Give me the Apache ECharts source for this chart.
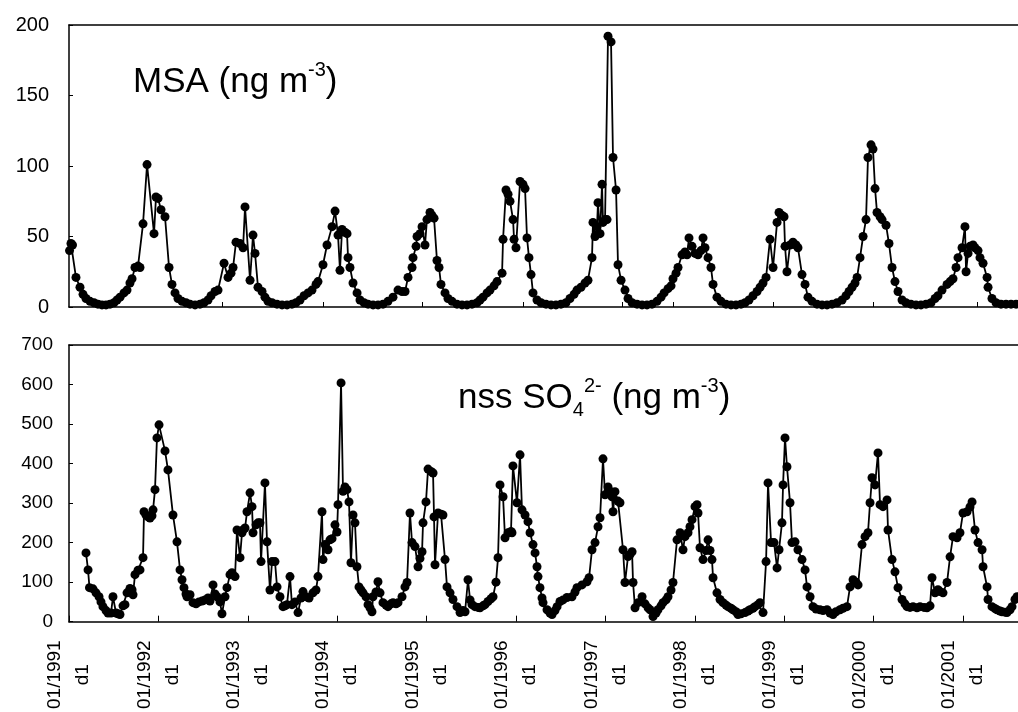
<!DOCTYPE html>
<html><head><meta charset="utf-8">
<script src="https://cdn.jsdelivr.net/npm/echarts@6/dist/echarts.min.js"></script>
<style>html,body{margin:0;padding:0;background:#fff}#c{width:1018px;height:712px}</style>
</head><body><div id="c"></div>
<script>
// ---- x-axis ticks / labels ----
const tickYears = [1991,1992,1993,1994,1995,1996,1997,1998,1999,2000,2001];
const tickLabels = ['01/1991\nd1','01/1992\nd1','01/1993\nd1','01/1994\nd1','01/1995\nd1','01/1996\nd1','01/1997\nd1','01/1998\nd1','01/1999\nd1','01/2000\nd1','01/2001\nd1'];
const msaPanelTicks = [1992.711,1993.841,1994.949,1996.078,1997.186,1997.756,1998.875,1999.993,2001.157];
const msaTicksY = [0,50,100,150,200];
const so4TicksY = [0,100,200,300,400,500,600,700];

// ---- MSA (ng m-3) : sample time (decimal year) and value ----
const msaX = [
1991.006,1991.022,1991.039,1991.078,1991.123,1991.157,1991.190,1991.235,1991.280,1991.324,1991.369,1991.414,1991.459,1991.503,1991.537,1991.571,1991.615,1991.649,1991.682,1991.705,1991.738,1991.772,1991.794,1991.828,1991.873,1991.951,1991.973,1991.996,
1992.029,1992.074,1992.119,1992.152,1992.186,1992.219,1992.264,1992.309,1992.354,1992.410,1992.465,1992.510,1992.555,1992.589,1992.633,1992.667,1992.734,1992.779,1992.812,1992.835,1992.868,1992.913,1992.947,1992.969,
1993.025,1993.058,1993.081,1993.114,1993.159,1993.192,1993.226,1993.271,1993.327,1993.383,1993.439,1993.494,1993.539,1993.584,1993.629,1993.674,1993.718,1993.763,1993.785,1993.841,1993.886,1993.942,1993.976,
1994.009,1994.031,1994.054,1994.087,1994.110,1994.121,1994.143,1994.177,1994.222,1994.255,1994.300,1994.345,1994.401,1994.457,1994.512,1994.568,1994.624,1994.680,1994.725,1994.759,1994.792,1994.837,1994.848,1994.882,1994.893,1994.926,1994.949,1994.982,
1995.004,1995.038,1995.060,1995.083,1995.116,1995.139,1995.161,1995.206,1995.239,1995.284,1995.340,1995.396,1995.452,1995.508,1995.564,1995.598,1995.631,1995.676,1995.709,1995.754,1995.788,1995.844,1995.855,1995.888,1995.911,1995.933,1995.967,1995.978,
1996.000,1996.045,1996.078,1996.101,1996.123,1996.145,1996.168,1996.190,1996.235,1996.280,1996.336,1996.392,1996.447,1996.503,1996.559,1996.604,1996.649,1996.682,1996.727,1996.772,1996.805,1996.850,1996.861,1996.884,1996.906,1996.917,1996.940,1996.962,1996.973,1996.996,
1997.018,1997.029,1997.063,1997.085,1997.119,1997.141,1997.175,1997.219,1997.253,1997.298,1997.354,1997.410,1997.465,1997.521,1997.577,1997.622,1997.656,1997.700,1997.734,1997.756,1997.790,1997.812,1997.857,1997.890,1997.913,1997.935,1997.969,
1998.002,1998.036,1998.069,1998.092,1998.114,1998.148,1998.181,1998.204,1998.248,1998.293,1998.349,1998.405,1998.461,1998.517,1998.562,1998.606,1998.651,1998.696,1998.730,1998.763,1998.797,1998.841,1998.875,1998.920,1998.942,1998.975,1998.998,
1999.009,1999.031,1999.065,1999.098,1999.132,1999.154,1999.199,1999.233,1999.266,1999.311,1999.367,1999.423,1999.479,1999.535,1999.591,1999.647,1999.691,1999.725,1999.759,1999.792,1999.815,1999.848,1999.882,1999.915,1999.937,1999.971,1999.993,
2000.016,2000.038,2000.072,2000.094,2000.139,2000.172,2000.206,2000.239,2000.273,2000.318,2000.362,2000.418,2000.474,2000.530,2000.586,2000.642,2000.687,2000.720,2000.765,2000.821,2000.855,2000.888,2000.922,2000.944,2000.989,
2001.022,2001.034,2001.056,2001.078,2001.112,2001.134,2001.168,2001.190,2001.224,2001.269,2001.280,2001.324,2001.369,2001.425,2001.481,2001.537,2001.593,2001.638
];
const msaY = [
40,45,44,21,14,9,6,4,3,2,1.5,1.5,2,3,5,7,10,12,17,20,28,29,28,59,101,52,78,77,
69,64,28,16,10,6,4,3,2,1.5,2,3,5,8,11,12,31,21,24,28,46,45,42,71,
19,51,38,14,11,7,4,3,2,1.5,1.5,2,3,5,8,10,12,16,18,30,44,57,68,
51,26,55,53,52,35,28,17,10,5,3,2,1.5,1.5,2,4,7,12,11,11,21,28,35,43,50,52,57,44,
62,67,65,63,33,28,16,10,6,4,2,1.5,1.5,2,3,5,7,10,12,15,18,24,48,83,80,75,62,48,
42,89,87,84,49,35,23,10,5,3,2,1.5,1.5,2,3,6,9,12,14,17,19,35,60,50,57,74,52,87,60,62,
62,192,188,106,83,30,19,12,6,3,2,1.5,1.5,2,4,7,10,13,15,20,24,28,37,39,37,49,43,
38,37,40,49,42,35,28,16,7,4,2,1.5,1.5,2,3,5,8,11,14,17,21,48,28,60,67,65,64,
43,25,44,46,44,42,23,16,7,4,2,1.5,1.5,2,3,5,8,11,14,17,21,35,50,62,106,115,112,
84,67,64,62,58,45,28,18,11,5,3,2,1.5,1.5,2,3,6,8,12,16,18,20,28,35,42,
57,25,38,43,44,42,40,35,31,21,14,6,3,2,2,2,2,2
];

// ---- nss SO4 2- (ng m-3) ----
const so4X = [
1991.190,1991.213,1991.229,1991.268,1991.302,1991.336,1991.358,1991.380,1991.414,1991.436,1991.470,1991.492,1991.526,1991.548,1991.570,1991.604,1991.626,1991.649,1991.682,1991.705,1991.716,1991.738,1991.772,1991.794,1991.828,1991.839,1991.861,1991.884,1991.906,1991.928,1991.940,1991.962,1991.984,
1992.007,1992.074,1992.107,1992.163,1992.208,1992.242,1992.264,1992.286,1992.309,1992.320,1992.354,1992.387,1992.421,1992.454,1992.488,1992.521,1992.555,1992.577,1992.611,1992.633,1992.656,1992.689,1992.711,1992.745,1992.767,1992.801,1992.823,1992.857,1992.879,1992.913,1992.935,1992.946,1992.969,1992.991,
1993.025,1993.047,1993.058,1993.092,1993.114,1993.136,1993.148,1993.192,1993.215,1993.248,1993.271,1993.304,1993.327,1993.360,1993.394,1993.416,1993.438,1993.472,1993.494,1993.528,1993.562,1993.595,1993.617,1993.651,1993.685,1993.729,1993.763,1993.785,1993.830,1993.841,1993.864,1993.897,1993.919,1993.942,1993.975,
1993.998,1994.009,1994.043,1994.065,1994.087,1994.110,1994.132,1994.154,1994.177,1994.199,1994.221,1994.244,1994.266,1994.289,1994.322,1994.345,1994.367,1994.389,1994.400,1994.434,1994.456,1994.479,1994.512,1994.546,1994.568,1994.602,1994.624,1994.658,1994.680,1994.725,1994.758,1994.781,1994.814,1994.837,1994.870,1994.904,1994.926,1994.949,1994.960,1994.993,
1995.016,1995.049,1995.072,1995.083,1995.094,1995.128,1995.161,1995.183,1995.206,1995.228,1995.262,1995.295,1995.340,1995.374,1995.407,1995.430,1995.463,1995.486,1995.508,1995.541,1995.575,1995.597,1995.631,1995.653,1995.687,1995.720,1995.743,1995.776,1995.799,1995.821,1995.855,1995.877,1995.911,1995.944,1995.955,1995.966,
1996.011,1996.045,1996.067,1996.101,1996.134,1996.157,1996.190,1996.213,1996.235,1996.246,1996.268,1996.291,1996.302,1996.347,1996.380,1996.403,1996.436,1996.459,1996.492,1996.526,1996.570,1996.626,1996.660,1996.682,1996.738,1996.794,1996.817,1996.850,1996.884,1996.917,1996.940,1996.973,1996.996,
1997.029,1997.051,1997.074,1997.085,1997.107,1997.141,1997.163,1997.197,1997.219,1997.253,1997.275,1997.298,1997.309,1997.331,1997.365,1997.410,1997.443,1997.477,1997.499,1997.533,1997.566,1997.588,1997.622,1997.644,1997.678,1997.700,1997.734,1997.756,1997.801,1997.835,1997.868,1997.890,1997.924,1997.946,1997.969,
1998.002,1998.025,1998.036,1998.058,1998.092,1998.125,1998.148,1998.170,1998.192,1998.204,1998.248,1998.282,1998.315,1998.349,1998.371,1998.405,1998.427,1998.461,1998.483,1998.517,1998.562,1998.595,1998.617,1998.651,1998.673,1998.707,1998.729,1998.763,1998.797,1998.819,1998.853,1998.886,1998.920,1998.942,1998.975,1998.987,
1999.009,1999.031,1999.065,1999.087,1999.121,1999.154,1999.199,1999.233,1999.255,1999.289,1999.322,1999.356,1999.400,1999.434,1999.479,1999.512,1999.546,1999.579,1999.624,1999.658,1999.702,1999.736,1999.770,1999.803,1999.826,1999.870,1999.904,1999.937,1999.960,1999.982,
2000.016,2000.049,2000.072,2000.105,2000.150,2000.161,2000.206,2000.239,2000.273,2000.318,2000.351,2000.374,2000.407,2000.441,2000.485,2000.519,2000.564,2000.597,2000.631,2000.653,2000.687,2000.720,2000.743,2000.776,2000.821,2000.855,2000.888,2000.933,2000.966,
2001.000,2001.045,2001.078,2001.101,2001.134,2001.168,2001.213,2001.224,2001.269,2001.280,2001.324,2001.358,2001.380,2001.414,2001.436,2001.470,2001.492,2001.526,2001.548,2001.581,2001.604
];
const so4Y = [
174,131,86,83,73,63,50,38,28,22,22,63,22,20,18,40,43,73,84,81,68,119,130,131,162,278,270,265,262,268,283,334,465,
498,432,384,270,202,131,106,86,70,63,68,48,45,50,52,55,60,52,93,70,63,50,20,63,86,119,124,114,232,162,225,232,237,278,
326,291,225,245,250,250,152,351,202,80,152,152,88,63,38,40,43,114,43,50,23,60,76,63,60,73,80,114,278,157,195,182,207,210,245,
227,296,604,330,341,334,303,149,270,250,139,88,80,73,63,43,35,25,63,75,101,73,48,42,38,45,48,45,48,63,88,99,275,200,190,139,160,177,250,303,
386,380,376,265,144,275,272,270,157,88,73,56,38,23,28,25,106,55,43,38,36,35,40,43,51,58,63,100,162,346,316,212,225,228,225,394,
301,422,283,270,253,225,195,174,139,114,86,60,48,30,22,18,28,38,51,55,61,63,75,86,93,101,111,182,200,240,263,412,321,
341,330,316,278,329,305,301,182,99,165,170,177,99,35,48,63,45,35,30,13,22,30,40,48,55,63,80,99,207,225,182,215,225,240,258,
291,296,275,187,157,180,207,180,157,111,73,56,48,42,38,34,30,25,18,20,23,27,30,34,38,43,48,23,152,351,200,200,136,182,250,346,
465,392,301,200,202,182,157,131,88,63,38,32,30,28,30,22,18,25,30,34,38,88,106,100,93,195,215,225,301,364,
346,427,296,291,308,232,157,126,86,56,45,38,36,38,35,38,36,35,40,111,73,81,76,73,99,164,215,212,225,
275,278,290,303,232,200,182,139,88,56,38,33,30,27,25,24,23,30,38,56,63
];

if (msaX.length !== msaY.length || so4X.length !== so4Y.length) console.error('length mismatch', msaX.length, msaY.length, so4X.length, so4Y.length);

const xMin = 1991, xMax = 2001.615;
const FONT = '"Liberation Sans", Arial, Helvetica, sans-serif';
const pair = (xs, ys) => xs.map((x, i) => [x, ys[i]]);
const black = '#000';
const axisLine = { show: true, onZero: false, lineStyle: { color: black, width: 1.5 } };

const chart = echarts.init(document.getElementById('c'), null, { renderer: 'canvas' });

const titleRich = {
  m: { fontSize: 35, lineHeight: 44, fontFamily: FONT, color: black, fontWeight: 'normal', verticalAlign: 'middle' },
  p: { fontSize: 20, lineHeight: 20, fontFamily: FONT, color: black, fontWeight: 'normal', verticalAlign: 'top' },
  b: { fontSize: 20, lineHeight: 20, fontFamily: FONT, color: black, fontWeight: 'normal', verticalAlign: 'bottom' }
};

const option = {
  animation: false,
  backgroundColor: '#fff',
  title: [
    { text: '{m|MSA (ng m}{p|-3}{m|)}', left: 133, top: 60, padding: 0,
      textStyle: { fontSize: 35, fontWeight: 'normal', fontFamily: FONT, color: black, rich: titleRich } },
    { text: '{m|nss SO}{b|4}{p|2-}{m| (ng m}{p|-3}{m|)}', left: 458, top: 376, padding: 0,
      textStyle: { fontSize: 35, fontWeight: 'normal', fontFamily: FONT, color: black, rich: titleRich } }
  ],
  grid: [
    { left: 69, right: 0, top: 25, bottom: 405, containLabel: false },
    { left: 69, right: 0, top: 345, bottom: 90, containLabel: false }
  ],
  xAxis: [
    { gridIndex: 0, type: 'value', min: xMin, max: xMax, position: 'bottom',
      axisLine: axisLine,
      axisTick: { show: true, inside: true, length: 5, customValues: msaPanelTicks, lineStyle: { color: black, width: 1 } },
      axisLabel: { show: false }, splitLine: { show: false } },
    { gridIndex: 0, type: 'value', min: xMin, max: xMax, position: 'top',
      axisLine: axisLine, axisTick: { show: false }, axisLabel: { show: false }, splitLine: { show: false } },
    { gridIndex: 1, type: 'value', min: xMin, max: xMax, position: 'bottom',
      axisLine: axisLine,
      axisTick: { show: true, inside: true, length: 6, customValues: tickYears, lineStyle: { color: black, width: 1 } },
      axisLabel: { show: true, customValues: tickYears, rotate: 90, align: 'center', verticalAlign: 'middle',
        margin: 53, fontSize: 19, lineHeight: 28, fontFamily: FONT, color: black, hideOverlap: false,
        formatter: v => tickLabels[tickYears.indexOf(Math.round(v))] || '' },
      splitLine: { show: false } },
    { gridIndex: 1, type: 'value', min: xMin, max: xMax, position: 'top',
      axisLine: axisLine, axisTick: { show: false }, axisLabel: { show: false }, splitLine: { show: false } }
  ],
  yAxis: [
    { gridIndex: 0, type: 'value', min: 0, max: 200, interval: 50,
      axisLine: axisLine,
      axisTick: { show: true, inside: true, length: 4, lineStyle: { color: black } },
      axisLabel: { fontSize: 20, margin: 20, color: black, fontFamily: FONT },
      splitLine: { show: false } },
    { gridIndex: 1, type: 'value', min: 0, max: 700, interval: 100,
      axisLine: axisLine,
      axisTick: { show: true, inside: true, length: 4, lineStyle: { color: black } },
      axisLabel: { fontSize: 19, margin: 16, color: black, fontFamily: FONT },
      splitLine: { show: false } }
  ],
  series: [
    { name: 'MSA', type: 'line', xAxisIndex: 0, yAxisIndex: 0, data: pair(msaX, msaY),
      symbol: 'circle', symbolSize: 9, showAllSymbol: true, clip: true,
      lineStyle: { color: black, width: 1.8 }, itemStyle: { color: black } },
    { name: 'nss SO4', type: 'line', xAxisIndex: 2, yAxisIndex: 1, data: pair(so4X, so4Y),
      symbol: 'circle', symbolSize: 9, showAllSymbol: true, clip: true,
      lineStyle: { color: black, width: 1.8 }, itemStyle: { color: black } }
  ]
};
chart.setOption(option);
</script>
</body></html>
